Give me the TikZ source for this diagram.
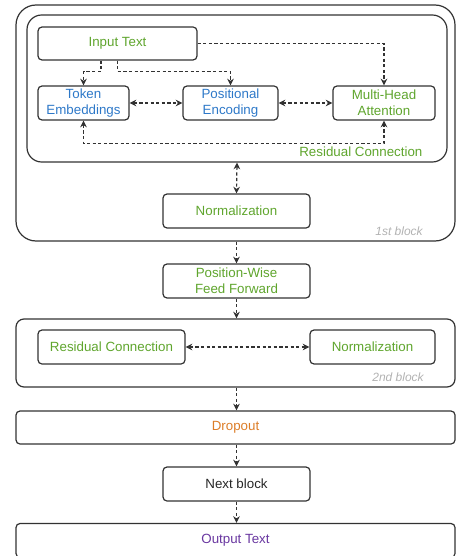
\documentclass[tikz,border=0pt]{standalone}
\usepackage{fontspec}
\setmainfont{Liberation Sans}
\usetikzlibrary{arrows.meta,calc,positioning}
\definecolor{txtgreen}{RGB}{95,165,45}
\definecolor{txtblue}{RGB}{45,120,200}
\definecolor{txtorange}{RGB}{220,125,40}
\definecolor{txtpurple}{RGB}{105,55,160}
\definecolor{edge}{RGB}{50,50,50}
\begin{document}
\begin{tikzpicture}[x=0.75pt,y=-0.75pt,
	box/.style={draw=edge,line width=0.9pt,rounded corners=3pt,align=center,inner sep=0pt,font=\fontsize{10}{12}\selectfont},
	link/.style={draw=edge,line width=0.9pt,dash pattern=on 2.4pt off 1.8pt,-{Stealth[length=5pt,width=5pt]}},
	link2/.style={link,{Stealth[length=5pt,width=5pt]}-{Stealth[length=5pt,width=5pt]}},
	tag/.style={font=\fontsize{9}{11}\selectfont\itshape,text=gray!60,inner sep=0pt,anchor=east}]
	\useasboundingbox (0,0) rectangle (457,556);
	\clip (0,0) rectangle (457,556);

	% first block
	\node[box,rounded corners=15pt,minimum width=329.25pt,minimum height=177pt] (blk1) at (235.5,123) {};
	\node[box,rounded corners=11pt,minimum width=315pt,minimum height=110.25pt] (inner) at (237,88.5) {};
	\node[box,text=txtgreen,minimum width=119.25pt,minimum height=24.75pt] (inp) at (117.5,43.5) {Input Text};
	\node[box,text=txtblue,minimum width=68.25pt,minimum height=25.5pt] (tok) at (83.5,103) {Token\\Embeddings};
	\node[box,text=txtblue,minimum width=71.25pt,minimum height=25.5pt] (pos) at (230.5,103) {Positional\\Encoding};
	\node[box,text=txtgreen,minimum width=76.5pt,minimum height=25.5pt] (mha) at (384,103) {Multi-Head\\Attention};
	\node[box,draw=none,text=txtgreen,anchor=east] (reslbl) at (423,152) {Residual Connection};
	\node[box,text=txtgreen,minimum width=110.25pt,minimum height=25.5pt] (norm1) at (236.5,211) {Normalization};
	\node[tag] (tag1) at (423,231) {1st block};

	\draw[link] ($(inp.south)+(-16.5,0)$) -- ++(0,11) -| (tok.north);
	\draw[link] (inp.south) -- ++(0,11) -| (pos.north);
	\draw[link] (inp.east) -| (mha.north);
	\draw[link2] (tok.east) -- (pos.west);
	\draw[link2] (pos.east) -- (mha.west);
	\draw[link2] (tok.south) -- ++(0,23) -| (mha.south);
	\draw[link2] (inner.south) -- (norm1.north);

	% feed forward
	\node[box,text=txtgreen,minimum width=110.25pt,minimum height=25.5pt] (pwff) at (236.5,281) {Position-Wise\\Feed Forward};
	\draw[link] (blk1.south -| pwff.north) -- (pwff.north);

	% second block
	\node[box,rounded corners=6pt,minimum width=329.25pt,minimum height=51pt] (blk2) at (235.5,353) {};
	\node[box,text=txtgreen,minimum width=110.25pt,minimum height=25.5pt] (res2) at (111.5,347) {Residual Connection};
	\node[box,text=txtgreen,minimum width=93.75pt,minimum height=25.5pt] (norm2) at (372.5,347) {Normalization};
	\node[tag] (tag2) at (424,377) {2nd block};
	\draw[link] (pwff.south) -- (blk2.north -| pwff.south);
	\draw[link2] (res2.east) -- (norm2.west);

	% output part
	\node[box,text=txtorange,minimum width=329.25pt,minimum height=24.75pt] (drop) at (235.5,427.5) {Dropout};
	\node[box,text=black!85,minimum width=110.25pt,minimum height=25.5pt] (next) at (236.5,484) {Next block};
	\node[box,text=txtpurple,minimum width=329.25pt,minimum height=25.5pt] (out) at (235.5,540.5) {Output Text};
	\draw[link] (blk2.south -| pwff.south) -- (drop.north -| pwff.south);
	\draw[link] (drop.south -| next.north) -- (next.north);
	\draw[link] (next.south) -- (out.north -| next.south);
\end{tikzpicture}
\end{document}
